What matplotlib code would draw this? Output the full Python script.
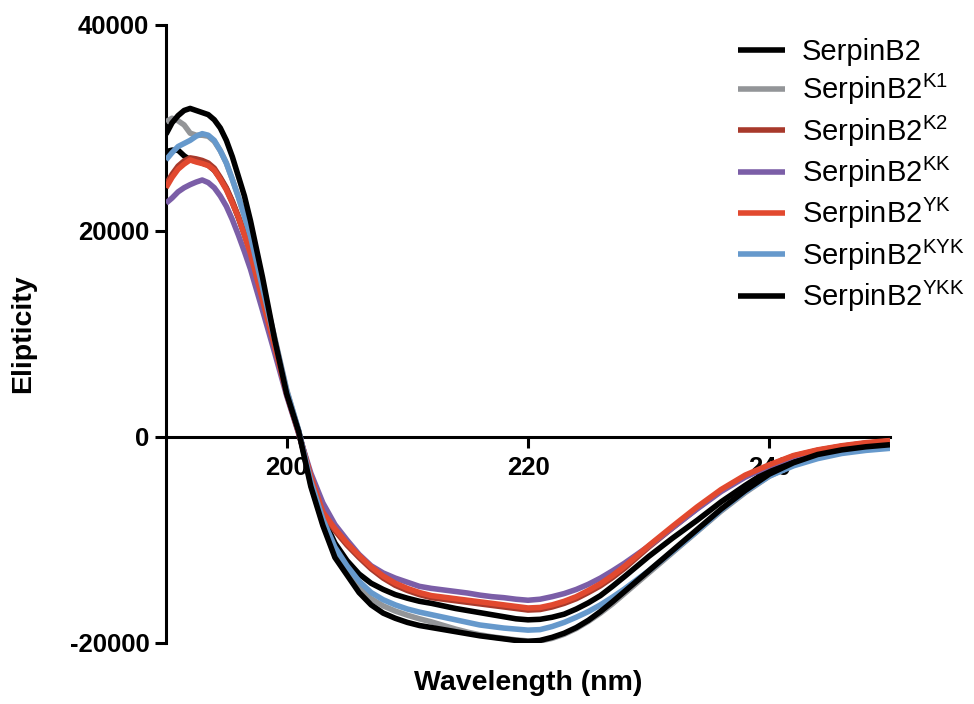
#Espectros de CD - SerpinB2 e mutantes
import numpy as np
import matplotlib.pyplot as plt

plt.rcParams['font.family'] = ['Liberation Sans', 'DejaVu Sans']
plt.rcParams['mathtext.fontset'] = 'custom'
plt.rcParams['mathtext.rm'] = 'Liberation Sans'
plt.rcParams['axes.unicode_minus'] = False

#Dados
wavelength = [190, 190.5, 191, 191.5, 192, 192.5, 193, 193.5, 194, 194.5,
              195, 195.5, 196, 196.5, 197, 198, 199, 200, 201, 202,
              203, 204, 205, 206, 207, 208, 209, 210, 211, 212,
              213, 214, 215, 216, 217, 218, 219, 220, 221, 222,
              223, 224, 225, 226, 227, 228, 230, 232, 234, 236,
              238, 240, 242, 244, 246, 248, 250]

serpinb2 = [27700, 27850, 27850, 27300, 26900, 26800, 26600, 26400, 25900, 25100,
            24100, 22800, 21300, 19700, 18000, 13500, 9000, 4300, 500, -4200,
            -7800, -10300, -12000, -13300, -14200, -14800, -15300, -15650, -15950, -16150,
            -16400, -16650, -16850, -17050, -17250, -17450, -17650, -17750, -17700, -17500,
            -17200, -16700, -16100, -15400, -14500, -13550, -11600, -9800, -8100, -6300,
            -4700, -3200, -2200, -1550, -1100, -800, -650]

serpinb2_k1 = [30600, 30950, 30700, 30300, 29500, 29300, 29300, 29200, 28700, 27800,
               26600, 25000, 23300, 21400, 19400, 14600, 9700, 4600, 600, -4600,
               -8400, -11300, -13100, -14600, -15700, -16400, -16900, -17300, -17650, -17950,
               -18300, -18650, -18950, -19200, -19400, -19550, -19700, -19800, -19800, -19550,
               -19150, -18600, -17900, -17100, -16200, -15200, -13200, -11200, -9200, -7200,
               -5400, -3800, -2700, -2000, -1500, -1200, -1000]

serpinb2_k2 = [24500, 25500, 26300, 26800, 27100, 27000, 26850, 26600, 26100, 25200,
               24200, 22900, 21400, 19700, 17900, 13400, 8900, 4200, 400, -3900,
               -7400, -9100, -10500, -11700, -12800, -13700, -14400, -14900, -15300, -15600,
               -15750, -15900, -16050, -16200, -16350, -16500, -16650, -16800, -16750, -16500,
               -16150, -15700, -15100, -14450, -13650, -12750, -10700, -8800, -6950, -5200,
               -3800, -2750, -1850, -1300, -900, -600, -400]

serpinb2_kk = [22700, 23200, 23800, 24200, 24500, 24750, 24950, 24700, 24200, 23400,
               22400, 21100, 19600, 18000, 16300, 12300, 8200, 4000, 300, -3500,
               -6400, -8500, -10000, -11400, -12500, -13200, -13700, -14100, -14500, -14700,
               -14850, -15000, -15150, -15350, -15500, -15600, -15750, -15850, -15750, -15500,
               -15200, -14800, -14300, -13700, -13000, -12250, -10600, -8800, -7000, -5300,
               -3900, -2800, -1900, -1300, -900, -600, -400]

serpinb2_yk = [24200, 25200, 26000, 26500, 26900, 26700, 26550, 26350, 25900, 25000,
               24000, 22700, 21300, 19600, 17800, 13300, 8800, 4200, 400, -3800,
               -7300, -8900, -10300, -11500, -12600, -13500, -14200, -14700, -15100, -15400,
               -15550, -15700, -15850, -16000, -16150, -16300, -16450, -16600, -16550, -16300,
               -15950, -15500, -14900, -14250, -13450, -12550, -10550, -8650, -6800, -5100,
               -3700, -2700, -1800, -1250, -850, -550, -350]

serpinb2_kyk = [26900, 27600, 28200, 28500, 28800, 29200, 29450, 29300, 28800, 27800,
                26600, 25000, 23300, 21500, 19500, 14500, 9500, 4500, 600, -4300,
                -8000, -10700, -12500, -14000, -15100, -15800, -16300, -16700, -17000, -17250,
                -17500, -17750, -18000, -18250, -18400, -18550, -18650, -18750, -18700, -18400,
                -18000, -17500, -16950, -16300, -15550, -14750, -13000, -11100, -9150, -7100,
                -5300, -3800, -2800, -2100, -1600, -1300, -1100]

serpinb2_ykk = [29400, 30500, 31200, 31700, 31900, 31700, 31500, 31300, 30800, 30000,
                28800, 27200, 25300, 23400, 21000, 15500, 9500, 4200, 500, -4800,
                -8600, -11700, -13400, -15100, -16300, -17100, -17600, -18000, -18300, -18500,
                -18700, -18900, -19100, -19300, -19450, -19600, -19750, -19850, -19750, -19450,
                -19050, -18500, -17800, -16950, -16000, -15000, -13000, -11000, -9000, -7000,
                -5200, -3600, -2500, -1700, -1250, -950, -750]

series = [serpinb2, serpinb2_k1, serpinb2_k2, serpinb2_kk,
          serpinb2_yk, serpinb2_kyk, serpinb2_ykk]
labels = ['SerpinB2', r'SerpinB2$^{\mathrm{K1}}$', r'SerpinB2$^{\mathrm{K2}}$',
          r'SerpinB2$^{\mathrm{KK}}$', r'SerpinB2$^{\mathrm{YK}}$',
          r'SerpinB2$^{\mathrm{KYK}}$', r'SerpinB2$^{\mathrm{YKK}}$']
cores = ['#000000', '#939598', '#A8392B', '#7B5EA7', '#E2492F', '#6699CC', '#000000']

#Gráfico
fig = plt.figure(figsize=(9.74, 7.04), dpi=100)
ax = fig.add_axes([166/974, 1 - 643/704, (890 - 166)/974, (643 - 25)/704])

for y, lab, c in zip(series, labels, cores):
    ax.plot(wavelength, y, color=c, lw=4.0, label=lab, zorder=3,
            solid_capstyle='butt', solid_joinstyle='round')

ax.set_xlim(190, 250)
ax.set_ylim(-20000, 40000)
ax.set_xticks([200, 220, 240])
ax.set_yticks([-20000, 0, 20000, 40000])

ax.spines['top'].set_visible(False)
ax.spines['right'].set_visible(False)
ax.spines['bottom'].set_position(('data', 0))
ax.spines['left'].set_linewidth(2.2)
ax.spines['bottom'].set_linewidth(2.2)
ax.set_axisbelow(True)

ax.tick_params(axis='both', direction='out', length=8, width=2.2,
               labelsize=18.5, pad=4)
ax.tick_params(axis='x', length=8, pad=6)
for t in ax.get_xticklabels() + ax.get_yticklabels():
    t.set_fontweight('bold')

ax.set_xlabel('Wavelength (nm)', fontsize=20.5, fontweight='bold')
ax.xaxis.set_label_coords(0.5, -0.043)
ax.set_ylabel('Elipticity', fontsize=20.5, fontweight='bold')
ax.yaxis.set_label_coords(-0.18, 0.5)

ax.legend(loc='upper left', bbox_to_anchor=(738/974, 1 - 38/704),
          bbox_transform=fig.transFigure, frameon=False, fontsize=21,
          handlelength=1.6, handletextpad=0.6, labelspacing=0.21,
          borderpad=0, borderaxespad=0)

plt.savefig('out.png', dpi=100)
